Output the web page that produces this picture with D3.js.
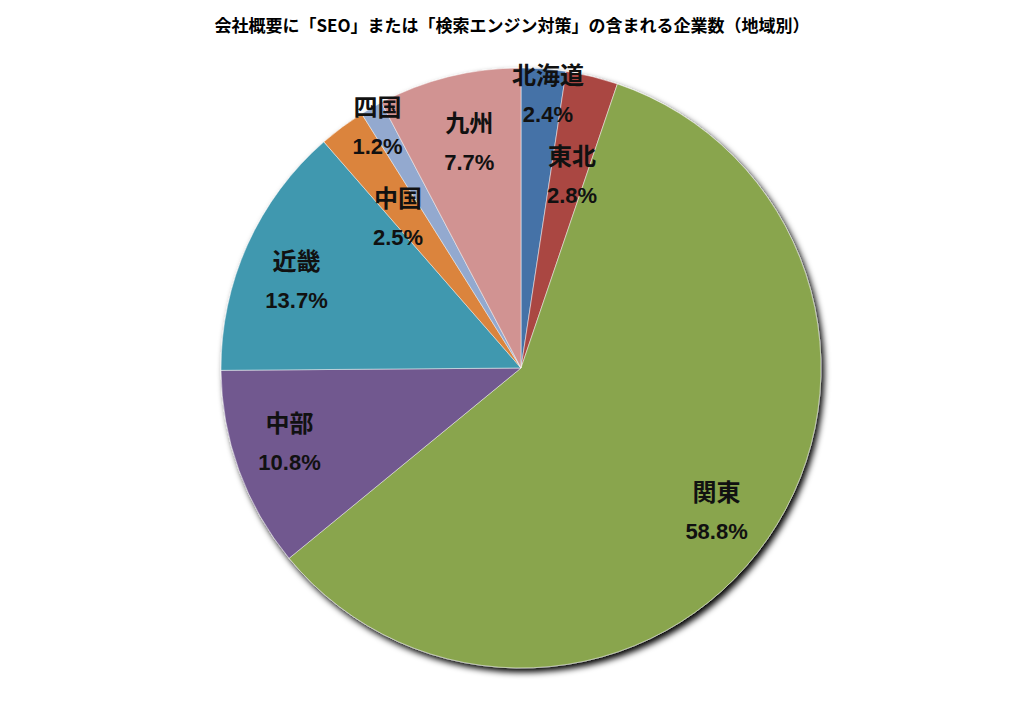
<!DOCTYPE html>
<html><head><meta charset="utf-8">
<script src="https://cdn.jsdelivr.net/npm/d3@7"></script>
<style>body{margin:0;background:#fff}</style></head>
<body><svg id="c" width="1024" height="719"></svg>
<script>
const categories=["北海道","東北","関東","中部","近畿","中国","四国","九州"];
const values=[2.4,2.8,58.8,10.8,13.7,2.5,1.2,7.7];
const colors=["#4572A7","#AA4643","#89A54E","#71588F","#4198AF","#DB843D","#93A9CF","#D19392"];
const title="会社概要に「SEO」または「検索エンジン対策」の含まれる企業数（地域別）";
// label placement: [radius, angle offset in degrees]
const place=[[275,1.3],[200,1.1],[242,1.4],[243,2.2],[241,-2.9],[195,-2.5],[281,-0.8],[232,1]];
const svg=d3.select("#c"),cx=521,cy=368,R=300;
svg.append("text").attr("x",512).attr("y",32).attr("text-anchor","middle")
 .attr("font-family","Noto Sans CJK JP").attr("font-weight","bold").attr("font-size",17).text(title);
const defs=svg.append("defs");
const f=defs.append("filter").attr("id","sh").attr("x","-10%").attr("y","-10%").attr("width","130%").attr("height","130%");
f.append("feGaussianBlur").attr("in","SourceAlpha").attr("stdDeviation",3);
f.append("feOffset").attr("dx",3).attr("dy",4).attr("result","b");
const m=f.append("feMerge");m.append("feMergeNode").attr("in","b");m.append("feMergeNode").attr("in","SourceGraphic");
const data=categories.map((c,i)=>({c,v:values[i],col:colors[i]}));
const pie=d3.pie().value(d=>d.v).sort(null);
const arcs=pie(data);
const arc=d3.arc().innerRadius(0).outerRadius(R);
const g=svg.append("g").attr("transform",`translate(${cx},${cy})`);
const pg=g.append("g").attr("filter","url(#sh)");
pg.selectAll("path").data(arcs).join("path").attr("d",arc).attr("fill",d=>d.data.col).attr("stroke","#fff").attr("stroke-width",0.5);
arcs.forEach((a,i)=>{
 const ang=(a.startAngle+a.endAngle)/2+place[i][1]*Math.PI/180;
 const r=place[i][0],x=r*Math.sin(ang),y=-r*Math.cos(ang);
 const t=g.append("text").attr("text-anchor","middle").attr("font-family","Noto Sans CJK JP")
  .attr("font-weight","bold").attr("font-size",24).attr("fill","#111");
 t.append("tspan").attr("x",x).attr("y",y-10).text(a.data.c);
 t.append("tspan").attr("x",x).attr("y",y+28).attr("font-family","Liberation Sans").attr("font-size",22).text(a.data.v.toFixed(1)+"%");
});
</script></body></html>
